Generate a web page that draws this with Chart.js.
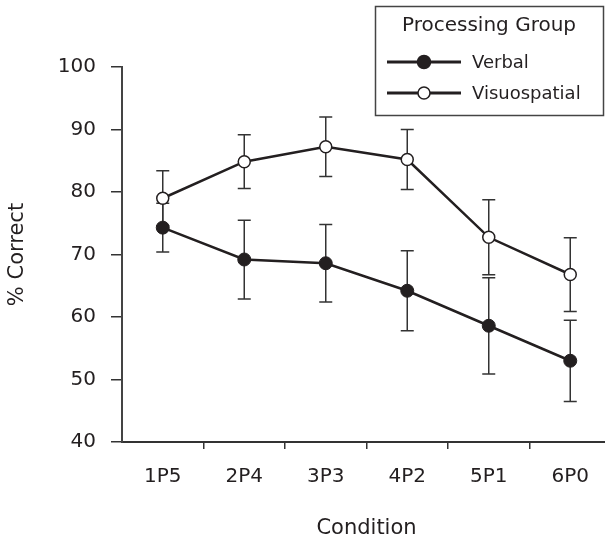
<!DOCTYPE html>
<html>
<head>
<meta charset="utf-8">
<script src="https://cdn.jsdelivr.net/npm/chart.js@4.4.1/dist/chart.umd.min.js"></script>
<style>
html,body{margin:0;padding:0;background:#fff;overflow:hidden;width:605px;height:541px;}
#wrap{position:absolute;left:0;top:0;width:611px;height:541px;}
</style>
</head>
<body>
<div id="wrap"><canvas id="c" width="611" height="541" style="width:611px;height:541px;"></canvas></div>
<script>
const categories = ['1P5', '2P4', '3P3', '4P2', '5P1', '6P0'];
const verbal = [74.3, 69.2, 68.6, 64.2, 58.6, 53.0];
const verbalErr = [3.9, 6.3, 6.2, 6.4, 7.7, 6.5];
const visuospatial = [79.0, 84.85, 87.25, 85.2, 72.75, 66.8];
const visuospatialErr = [4.4, 4.3, 4.75, 4.8, 6.0, 5.9];
const yTicks = [40, 50, 60, 70, 80, 90, 100];
const legendTitle = 'Processing Group';
const seriesNames = ['Verbal', 'Visuospatial'];

const INK = '#231f20';
const FONT = "'DejaVu Sans', Verdana, sans-serif";

const errorBars = {
  id: 'errorBars',
  beforeDatasetsDraw(chart) {
    const ctx = chart.ctx;
    const y = chart.scales.y;
    ctx.save();
    ctx.strokeStyle = '#333';
    ctx.lineWidth = 1.5;
    chart.data.datasets.forEach((ds, i) => {
      const meta = chart.getDatasetMeta(i);
      meta.data.forEach((pt, j) => {
        const v = ds.data[j], e = ds.errors[j];
        const top = y.getPixelForValue(v + e);
        const bot = y.getPixelForValue(v - e);
        const x = pt.x;
        ctx.beginPath();
        ctx.moveTo(x, top); ctx.lineTo(x, bot);
        ctx.moveTo(x - 6.5, top); ctx.lineTo(x + 6.5, top);
        ctx.moveTo(x - 6.5, bot); ctx.lineTo(x + 6.5, bot);
        ctx.stroke();
      });
    });
    ctx.restore();
  }
};

const boxLegend = {
  id: 'boxLegend',
  afterDraw(chart) {
    const ctx = chart.ctx;
    ctx.save();
    ctx.strokeStyle = '#444';
    ctx.lineWidth = 1.5;
    ctx.strokeRect(375.5, 6.5, 228, 109);
    ctx.fillStyle = INK;
    ctx.textBaseline = 'middle';
    ctx.textAlign = 'center';
    ctx.font = '20px ' + FONT;
    ctx.fillText(legendTitle, 489, 26);
    ctx.font = '18px ' + FONT;
    ctx.textAlign = 'left';
    const rows = [62, 93];
    chart.data.datasets.forEach((ds, i) => {
      const yy = rows[i];
      ctx.strokeStyle = INK;
      ctx.lineWidth = 3;
      ctx.beginPath(); ctx.moveTo(387, yy); ctx.lineTo(461, yy); ctx.stroke();
      ctx.beginPath(); ctx.arc(424, yy, ds.pointRadius, 0, Math.PI * 2);
      ctx.fillStyle = ds.pointBackgroundColor;
      ctx.fill();
      ctx.lineWidth = 1.5;
      ctx.stroke();
      ctx.fillStyle = INK;
      ctx.fillText(ds.label, 472, yy + 1);
    });
    ctx.restore();
  }
};

const chart = new Chart(document.getElementById('c'), {
  type: 'line',
  data: {
    labels: categories,
    datasets: [
      {
        label: seriesNames[0], data: verbal, errors: verbalErr,
        borderColor: INK, borderWidth: 2.5, tension: 0,
        pointRadius: 6.5, pointBackgroundColor: INK, pointBorderColor: INK, pointBorderWidth: 1
      },
      {
        label: seriesNames[1], data: visuospatial, errors: visuospatialErr,
        borderColor: INK, borderWidth: 2.5, tension: 0,
        pointRadius: 6, pointBackgroundColor: '#ffffff', pointBorderColor: INK, pointBorderWidth: 1.5
      }
    ]
  },
  options: {
    responsive: false,
    animation: false,
    layout: { autoPadding: false, padding: { top: 67, left: 0, right: 0, bottom: 0 } },
    plugins: { legend: { display: false }, tooltip: { enabled: false } },
    scales: {
      x: {
        offset: true,
        grid: {
          offset: true, drawOnChartArea: false, drawTicks: true, tickLength: 7, lineWidth: 1.5,
          color: '#333',
          tickColor: (c) => (c.index === 0 ? 'rgba(0,0,0,0)' : '#333')
        },
        border: { display: true, color: '#333', width: 2 },
        ticks: { color: INK, font: { family: FONT, size: 20 }, padding: 16 },
        title: { display: true, text: 'Condition', color: INK, font: { family: FONT, size: 21 }, padding: { top: 0, bottom: 0 } },
        afterFit(s) { s.height = 99; s.paddingLeft = 0; s.paddingRight = 0; }
      },
      y: {
        min: 40, max: 100,
        afterBuildTicks(s) { s.ticks = yTicks.map(v => ({ value: v })); },
        grid: { drawOnChartArea: false, drawTicks: true, tickLength: 11, color: '#333', lineWidth: 1.5 },
        border: { display: true, color: '#444', width: 2 },
        ticks: { color: INK, font: { family: FONT, size: 20 }, padding: 15 },
        title: { display: true, text: '% Correct', color: INK, font: { family: FONT, size: 21 }, padding: { top: 5, bottom: 0 } },
        afterFit(s) { s.width = 122; }
      }
    }
  },
  plugins: [errorBars, boxLegend]
});
</script>
</body>
</html>
